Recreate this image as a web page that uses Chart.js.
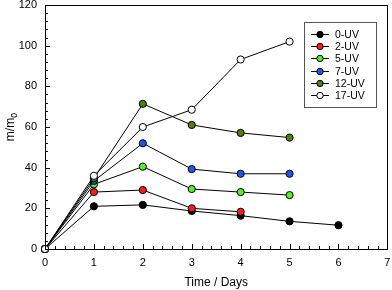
<!DOCTYPE html>
<html><head><meta charset="utf-8">
<script src="https://cdn.jsdelivr.net/npm/chart.js@4/dist/chart.umd.min.js"></script>
<style>html,body{margin:0;padding:0;background:#fff}#wrap{width:392px;height:290px}</style>
</head><body><div id="wrap"><canvas id="c" width="392" height="290"></canvas></div>
<script>
const seriesNames = ['0-UV','2-UV','5-UV','7-UV','12-UV','17-UV'];
const seriesColors = ['#000000','#ff1a1a','#55ee22','#2255ee','#4f7f10','#ffffff'];
const days0  = [0,1,2,3,4,5,6];
const uv0    = [0,21,21.7,18.7,16.4,13.6,11.7];
const days2  = [0,1,2,3,4];
const uv2    = [0,28,29,20,18.3];
const days5  = [0,1,2,3,4,5];
const uv5    = [0,31.8,40.5,29.5,28,26.5];
const days7  = [0,1,2,3,4,5];
const uv7    = [0,33.5,52,39.3,37,37];
const days12 = [0,1,2,3,4,5];
const uv12   = [0,34.8,71.4,61,57.1,54.8];
const days17 = [0,1,2,3,4,5];
const uv17   = [0,36,60,68.5,93.2,102];
const xTicks = [0,1,2,3,4,5,6,7];
const yTicks = [0,20,40,60,80,100,120];

const allX = [days0,days2,days5,days7,days12,days17];
const allY = [uv0,uv2,uv5,uv7,uv12,uv17];
const FONT = '"Liberation Sans", Arial, sans-serif';

const datasets = seriesNames.map((n,i)=>({
  label:n,
  data: allX[i].map((x,j)=>({x:x,y:allY[i][j]})),
  borderColor:'#000', borderWidth:1,
  pointBackgroundColor:seriesColors[i], pointBorderColor:'#000', pointBorderWidth:1,
  pointRadius:3.6, pointHoverRadius:3.6, tension:0, fill:false,
  order: 6-i
}));

const deco = {
  id:'deco',
  afterDraw(chart){
    const ctx=chart.ctx, a=chart.chartArea, xs=chart.scales.x, ys=chart.scales.y;
    ctx.save();
    ctx.strokeStyle='#000'; ctx.lineWidth=1;
    ctx.strokeRect(Math.round(a.left)+0.5, Math.round(a.top)+0.5, Math.round(a.right-a.left), Math.round(a.bottom-a.top));
    ctx.beginPath();
    for(let v=0; v<=7.0001; v+=0.2){
      const major = Math.abs(v-Math.round(v))<1e-6;
      const px=Math.round(xs.getPixelForValue(v))+0.5;
      ctx.moveTo(px,a.bottom); ctx.lineTo(px,a.bottom-(major?5:3));
    }
    for(let v=0; v<=120.0001; v+=4){
      const major = Math.abs(v/20-Math.round(v/20))<1e-6;
      const py=Math.round(ys.getPixelForValue(v))+0.5;
      ctx.moveTo(a.left,py); ctx.lineTo(a.left+(major?5:3),py);
    }
    ctx.stroke();
    ctx.fillStyle='#000';
    ctx.font='12px '+FONT;
    ctx.textAlign='center'; ctx.textBaseline='alphabetic';
    ctx.fillText('Time / Days', (a.left+a.right)/2, 286);
    ctx.save();
    ctx.translate(14, 127);
    ctx.rotate(-Math.PI/2);
    ctx.textAlign='left';
    ctx.font='12px '+FONT;
    const t='m/m';
    const w=ctx.measureText(t).width;
    const sw=5;
    const start=-(w+sw)/2;
    ctx.fillText(t,start,0);
    ctx.font='8.5px '+FONT;
    ctx.fillText('0',start+w,3);
    ctx.restore();
    const lx=304, ly=22, lw=72, lh=85;
    ctx.fillStyle='#fff'; ctx.fillRect(lx,ly,lw,lh);
    ctx.strokeStyle='#555'; ctx.strokeRect(lx+0.5,ly+0.5,lw,lh);
    ctx.font='10.5px '+FONT; ctx.textAlign='left'; ctx.textBaseline='middle';
    for(let i=0;i<seriesNames.length;i++){
      const yy=Math.round(ly+12+i*12.2)+0.5;
      ctx.strokeStyle='#000'; ctx.beginPath(); ctx.moveTo(lx+7,yy); ctx.lineTo(lx+25,yy); ctx.stroke();
      ctx.beginPath(); ctx.arc(lx+16,yy,3.2,0,Math.PI*2);
      ctx.fillStyle=seriesColors[i]; ctx.fill(); ctx.stroke();
      ctx.fillStyle='#000'; ctx.fillText(seriesNames[i], lx+31, yy+0.5);
    }
    ctx.restore();
  }
};

new Chart(document.getElementById('c'),{
  type:'line',
  data:{datasets},
  options:{
    responsive:false, animation:false, clip:false,
    layout:{padding:{top:5,right:4,left:0,bottom:0}},
    plugins:{legend:{display:false},tooltip:{enabled:false}},
    scales:{
      x:{type:'linear',min:0,max:7,
        afterBuildTicks(s){s.ticks=xTicks.map(v=>({value:v}));},
        afterFit(s){s.height=41;s.paddingLeft=0;s.paddingRight=0;},
        grid:{display:false,drawTicks:false},
        border:{display:false},
        ticks:{padding:7,color:'#000',font:{family:FONT,size:11},maxRotation:0}},
      y:{type:'linear',min:0,max:120,
        afterBuildTicks(s){s.ticks=yTicks.map(v=>({value:v}));},
        afterFit(s){s.width=45;s.paddingTop=0;s.paddingBottom=0;},
        grid:{display:false,drawTicks:false},
        border:{display:false},
        ticks:{padding:8,color:'#000',font:{family:FONT,size:11}}}
    }
  },
  plugins:[deco]
});
</script></body></html>
